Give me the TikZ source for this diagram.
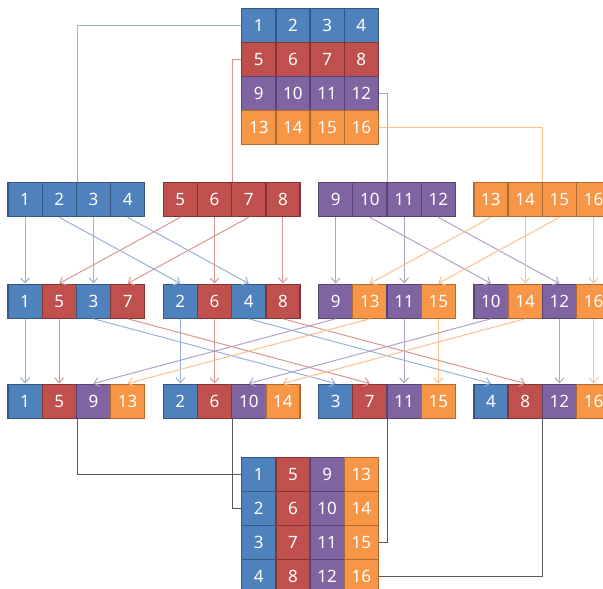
\documentclass[tikz,border=0pt]{standalone}
\usepackage{fontspec}
\setmainfont{Noto Sans}
\usepackage{xcolor}
\usetikzlibrary{arrows.meta,calc}

\definecolor{fill0}{HTML}{4F81BD} \definecolor{line0}{HTML}{355784} \definecolor{wire0}{HTML}{95B3D7}
\definecolor{fill1}{HTML}{C0504D} \definecolor{line1}{HTML}{863432} \definecolor{wire1}{HTML}{D99694}
\definecolor{fill2}{HTML}{8064A2} \definecolor{line2}{HTML}{574370} \definecolor{wire2}{HTML}{B3A2C7}
\definecolor{fill3}{HTML}{F79646} \definecolor{line3}{HTML}{B0692E} \definecolor{wire3}{HTML}{FAC090}
\definecolor{wiredark}{HTML}{595959}

\begin{document}
\begin{tikzpicture}[
    x=1pt, y=-1pt,
    cell/.style={rectangle, draw, line width=1.3pt, anchor=north west, minimum width=34.2pt,
      minimum height=34pt, inner sep=0pt, text=white, font=\fontsize{17}{17}\selectfont},
    link/.style={line width=1pt},
    flow/.style={line width=1pt, -{Straight Barb[length=5pt,width=9pt]}}
  ]
  \clip (0,0) rectangle (603,589);

  % Top matrix
  \foreach \v in {1,...,16}{
    \pgfmathtruncatemacro\g{(\v-1)/4}
    \pgfmathtruncatemacro\c{mod(\v-1,4)}
    \node[cell, fill=fill\g, draw=line\g] (m-\v) at (241+34.2*\c, 7.5+34*\g) {\v};
  }

  % Row 1
  \foreach \v [count=\i from 0] in {1,...,16}{
    \pgfmathtruncatemacro\g{(\v-1)/4}
    \pgfmathtruncatemacro\k{\i/4}
    \pgfmathtruncatemacro\c{mod(\i,4)}
    \node[cell, fill=fill\g, draw=line\g] (r1-\v) at (7.3+155.3*\k+34.2*\c, 182) {\v};
  }

  % Row 2
  \foreach \v [count=\i from 0] in {1,5,3,7,2,6,4,8,9,13,11,15,10,14,12,16}{
    \pgfmathtruncatemacro\g{(\v-1)/4}
    \pgfmathtruncatemacro\k{\i/4}
    \pgfmathtruncatemacro\c{mod(\i,4)}
    \node[cell, fill=fill\g, draw=line\g] (r2-\v) at (7.3+155.3*\k+34.2*\c, 283.5) {\v};
  }

  % Row 3
  \foreach \v [count=\i from 0] in {1,5,9,13,2,6,10,14,3,7,11,15,4,8,12,16}{
    \pgfmathtruncatemacro\g{(\v-1)/4}
    \pgfmathtruncatemacro\k{\i/4}
    \pgfmathtruncatemacro\c{mod(\i,4)}
    \node[cell, fill=fill\g, draw=line\g] (r3-\v) at (7.3+155.3*\k+34.2*\c, 383.5) {\v};
  }

  % Bottom matrix
  \foreach \v [count=\i from 0] in {1,5,9,13,2,6,10,14,3,7,11,15,4,8,12,16}{
    \pgfmathtruncatemacro\g{(\v-1)/4}
    \pgfmathtruncatemacro\r{\i/4}
    \pgfmathtruncatemacro\c{mod(\i,4)}
    \node[cell, fill=fill\g, draw=line\g] (b-\v) at (241+34.2*\c, 457+34*\r) {\v};
  }

  % Links from the top matrix
  \draw[link, wire0] (m-1.west) -| (r1-2.north east);
  \draw[link, wire1] (m-5.west) -| (r1-6.north east);
  \draw[link, wire2] (m-12.east) -| (r1-10.north east);
  \draw[link, wire3] (m-16.east) -| (r1-14.north east);

  % Shuffles
  \foreach \v in {1,...,16}{
    \pgfmathtruncatemacro\g{(\v-1)/4}
    \draw[flow, wire\g] (r1-\v.south) -- (r2-\v.north);
    \draw[flow, wire\g] (r2-\v.south) -- (r3-\v.north);
  }

  % Links to the bottom matrix
  \draw[link, wiredark] (r3-5.south east) |- (b-1.west);
  \draw[link, wiredark] (r3-6.south east) |- (b-2.west);
  \draw[link, wiredark] (r3-7.south east) |- (b-15.east);
  \draw[link, wiredark] (r3-8.south east) |- (b-16.east);
\end{tikzpicture}
\end{document}
